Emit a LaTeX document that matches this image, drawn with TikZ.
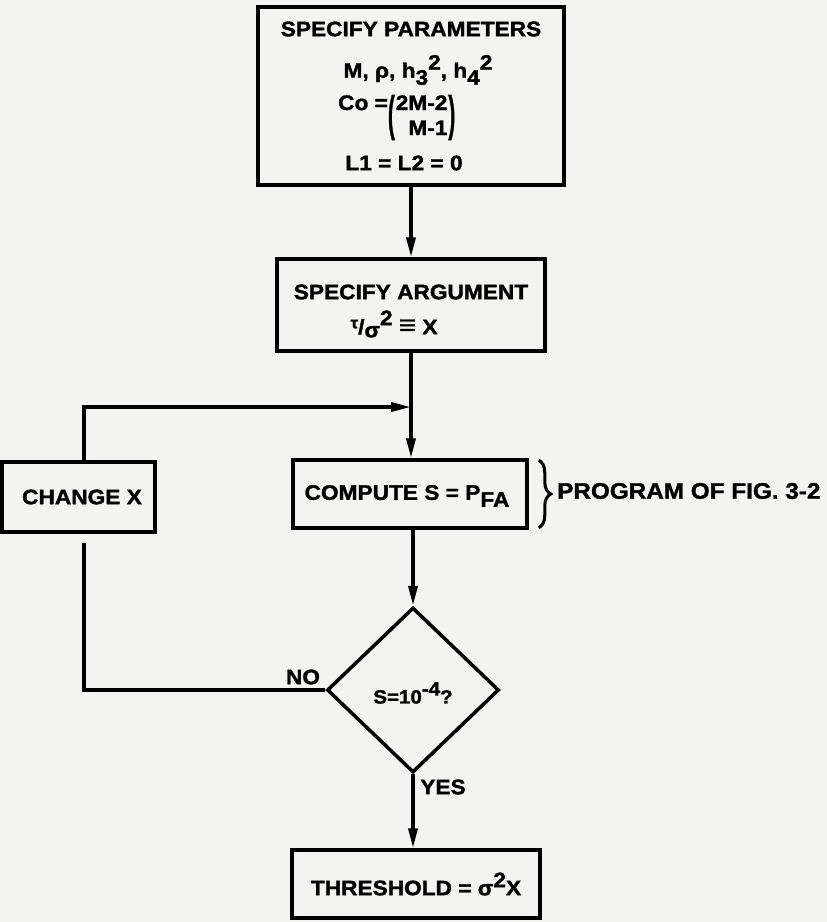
\documentclass[tikz,border=0pt]{standalone}
\usepackage{fontspec}
\setmainfont{Liberation Sans}[FakeStretch=1.08,FakeBold=1.5]
\usetikzlibrary{shapes.geometric,arrows.meta,decorations.pathreplacing}
\newcommand\mysub[1]{\raisebox{-7pt}{#1}}
\newcommand\mysup[1]{\raisebox{8pt}{#1}}
\newcommand\bigparen[1]{\raisebox{-20pt}{\scalebox{0.9}[2.3]{#1}}}
\definecolor{paper}{RGB}{243,243,241}
\begin{document}
\begin{tikzpicture}[x=1pt,y=-1pt,
  box/.style={draw,line width=3.5pt,rectangle,inner sep=0pt,line join=miter},
  lab/.style={font=\bfseries\fontsize{21}{25}\selectfont,inner sep=0pt},
  conn/.style={line width=3.5pt,line join=miter},
  arr/.style={conn,-{Triangle[length=20pt,width=9pt]}}]
\fill[paper] (0,0) rectangle (827,922);
\useasboundingbox (0,0) rectangle (827,922);
% boxes
\node[box,minimum width=306pt,minimum height=178pt] (b1) at (411,96) {};
\node[lab] (b1t1) at (411,29) {SPECIFY PARAMETERS};
\node[lab] (b1t2) at (418,70) {M, ρ, h\mysub{3}\mysup{2}, h\mysub{4}\mysup{2}};
\node[lab,anchor=base west] (b1t3) at (338,110) {Co =\bigparen{(}\hspace{1pt}\begin{tabular}[t]{@{}r@{}}2M-2\\M-1\end{tabular}\hspace{1pt}\bigparen{)}};
\node[lab] (b1t4) at (404,163) {L1 = L2 = 0};

\node[box,minimum width=268pt,minimum height=92pt] (b2) at (411,305) {};
\node[lab] (b2t1) at (411,292) {SPECIFY ARGUMENT};
\node[lab] (b2t2) at (394,324) {\raisebox{6pt}{\fontsize{16}{18}\selectfont τ}/\raisebox{-3pt}{σ}\raisebox{9pt}{2} \scalebox{1.3}{≡} X};

\node[box,minimum width=234pt,minimum height=68pt] (comp) at (410,494) {};
\node[lab] (compt) at (407,496) {COMPUTE S = P\mysub{FA}};

\node[box,minimum width=153pt,minimum height=70pt] (chg) at (78.5,497) {};
\node[lab] (chgt) at (82,497) {CHANGE X};

\node[draw,diamond,line width=3.5pt,minimum width=172pt,minimum height=165pt,inner sep=0pt] (dia) at (413,690) {};
\node[lab,font=\bfseries\fontsize{19}{22}\selectfont] (diat) at (413,693) {S=10\raisebox{8pt}{-4}?};

\node[box,lab,minimum width=248pt,minimum height=68pt] (thr) at (416,884) {THRESHOLD = σ\mysup{2}X};

% brace and label
\draw[line width=3pt,decorate,decoration={brace,amplitude=12pt}] ([xshift=10pt,yshift=-2pt]comp.north east) -- ([xshift=10pt,yshift=2pt]comp.south east);
\node[lab,font=\bfseries\fontsize{22.5}{26}\selectfont,anchor=west] (prog) at (557,491) {PROGRAM OF FIG. 3-2};

% labels
\node[lab] (no) at (303,677) {NO};
\node[lab] (yes) at (443,787) {YES};

% connectors
\coordinate (j) at (411,407);
\coordinate (n1) at (84,543);
\draw[arr] (b1.south) -- (b2.north);
\draw[arr] (b2.south) -- (b2.south |- comp.north);
\draw[arr] ([xshift=5.5pt]chg.north) |- (j);
\draw[arr] (dia.north |- comp.south) -- (dia.north);
\draw[conn] (n1) |- (dia.west);
\draw[arr] (dia.south) -- (dia.south |- thr.north);
\end{tikzpicture}
\end{document}
